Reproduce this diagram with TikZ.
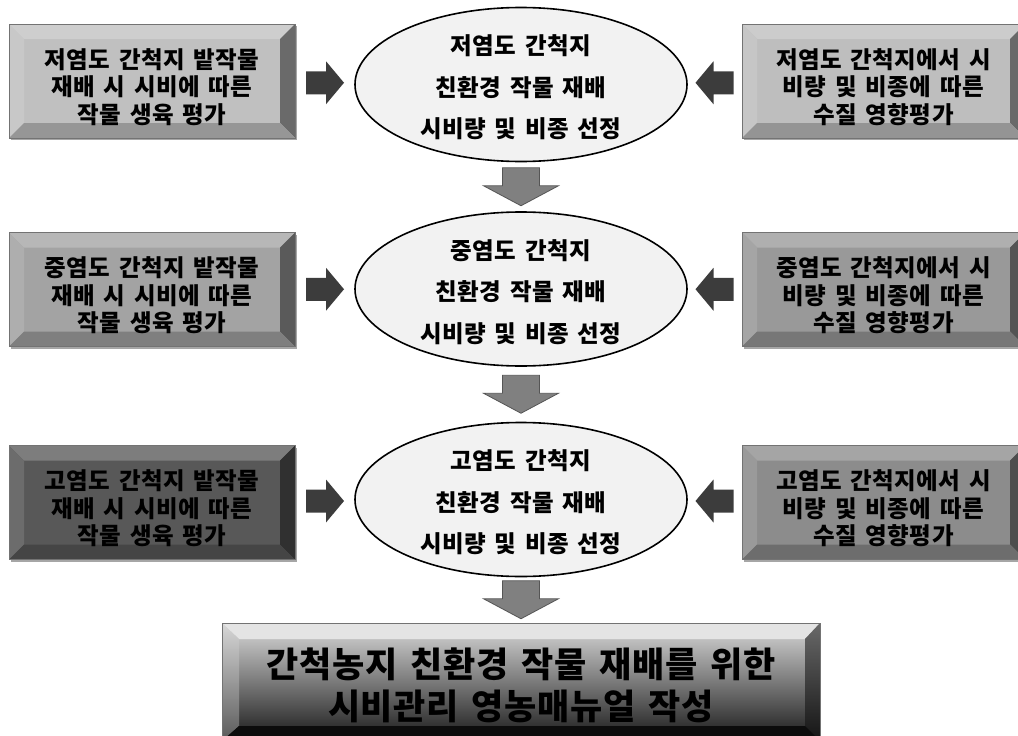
\documentclass[tikz,border=0pt]{standalone}
\usepackage{fontspec}
\newfontfamily\kr{Noto Sans CJK KR}[WordSpace=1.5, LetterSpace=2]
\usetikzlibrary{shapes.geometric,calc}
\definecolor{fa}{RGB}{192,192,192}
\definecolor{fb}{RGB}{163,163,163}
\definecolor{fc}{RGB}{88,88,88}
\definecolor{ga}{RGB}{190,190,190}
\definecolor{gb}{RGB}{153,153,153}
\definecolor{gc}{RGB}{140,140,140}
\definecolor{ellfill}{RGB}{242,242,242}
\definecolor{arrdark}{RGB}{60,60,60}
\definecolor{arrgray}{RGB}{128,128,128}
\definecolor{arrgrayd}{RGB}{85,85,85}
\definecolor{bface1}{RGB}{218,218,218}
\definecolor{bface2}{RGB}{25,25,25}
\definecolor{btop}{RGB}{228,228,228}
\definecolor{bleft1}{RGB}{215,215,215}
\definecolor{bleft2}{RGB}{90,90,90}
\definecolor{bright1}{RGB}{105,105,105}
\definecolor{bright2}{RGB}{20,20,20}
\definecolor{bbot}{RGB}{12,12,12}
\tikzset{
 bframe/.style={draw=black!55, line width=0.6pt, inner sep=0pt, outer sep=0pt, rectangle},
 boxpos/.style={minimum width=#1, minimum height=114pt, inner sep=0pt, outer sep=0pt},
 sidetext/.style={font=\kr\bfseries\fontsize{23.5}{27.5}\selectfont, align=center, text=black, inner sep=0pt},
 ell/.style={ellipse, draw=black, line width=1.6pt, fill=ellfill, minimum width=332pt, minimum height=154pt, inner sep=0pt, outer sep=0pt},
 elltext/.style={align=center, inner sep=0pt, font=\kr\bfseries\fontsize{23.5}{41.5}\selectfont},
 pics/rarrow/.style={code={
   \fill[arrdark] (-19pt,11.5pt) -- (1pt,11.5pt) -- (1pt,21.5pt) -- (19pt,0pt) -- (1pt,-21.5pt) -- (1pt,-11.5pt) -- (-19pt,-11.5pt) -- cycle;}},
 pics/darrow/.style={code={
   \filldraw[fill=arrgray, draw=arrgrayd, line width=0.8pt] (-18.5pt,19pt) -- (18.5pt,19pt) -- (18.5pt,1pt) -- (37.5pt,1pt) -- (0pt,-19pt) -- (-37.5pt,1pt) -- (-18.5pt,1pt) -- cycle;}},
}
\newcommand\bevbox[6]{%
 \fill[black!35] ([shift={(2pt,-2pt)}]#1.north west) rectangle ([shift={(2pt,-2pt)}]#1.south east);
 \node[bframe, minimum width=#3, minimum height=#4, fill=#5] (#1) at (#2) {};
 \fill[#5!78!white] (#1.north west) -- (#1.north east) -- ([shift={(-15pt,-15pt)}]#1.north east) -- ([shift={(15pt,-15pt)}]#1.north west) -- cycle;
 \fill[#5!88!white] (#1.north west) -- ([shift={(15pt,-15pt)}]#1.north west) -- ([shift={(15pt,15pt)}]#1.south west) -- (#1.south west) -- cycle;
 \fill[#5!55!black] (#1.north east) -- ([shift={(-15pt,-15pt)}]#1.north east) -- ([shift={(-15pt,15pt)}]#1.south east) -- (#1.south east) -- cycle;
 \fill[#5!78!black] (#1.south west) -- ([shift={(15pt,15pt)}]#1.south west) -- ([shift={(-15pt,15pt)}]#1.south east) -- (#1.south east) -- cycle;
 \draw[black!55, line width=0.6pt] (#1.north west) rectangle (#1.south east);
 \node[sidetext] (#1t) at ([yshift=-6pt]#1.center) {#6};
}
\begin{document}
\begin{tikzpicture}[x=1pt,y=-1pt]
\clip (0,0) rectangle (1018,736);
\fill[white] (0,0) rectangle (1018,736);
% ellipses
\node[ell] (E1) at (521,84.5) {};
\node[ell] (E2) at (521,289) {};
\node[ell] (E3) at (521,499.5) {};
\node[elltext] (E1t) at ([yshift=-3pt]E1.center) {저염도 간척지\\친환경 작물 재배\\시비량 및 비종 선정};
\node[elltext] (E2t) at ([yshift=-3pt]E2.center) {중염도 간척지\\친환경 작물 재배\\시비량 및 비종 선정};
\node[elltext] (E3t) at ([yshift=-3pt]E3.center) {고염도 간척지\\친환경 작물 재배\\시비량 및 비종 선정};
% side box positions (for shadows)
\node[boxpos=286pt] (L1) at (152,81) {};
\node[boxpos=286pt] (L2) at (152,289.5) {};
\node[boxpos=286pt] (L3) at (152,502.5) {};
\node[boxpos=283pt] (R1) at (883.5,81) {};
\node[boxpos=283pt] (R2) at (883.5,289.5) {};
\node[boxpos=283pt] (R3) at (883.5,502.5) {};
\bevbox{L1}{152,81}{286pt}{114pt}{fa}{저염도 간척지 밭작물\\재배 시 시비에 따른\\작물 생육 평가}
\bevbox{L2}{152,289.5}{286pt}{114pt}{fb}{중염도 간척지 밭작물\\재배 시 시비에 따른\\작물 생육 평가}
\bevbox{L3}{152,502.5}{286pt}{114pt}{fc}{고염도 간척지 밭작물\\재배 시 시비에 따른\\작물 생육 평가}
\bevbox{R1}{883.5,81}{283pt}{114pt}{ga}{저염도 간척지에서 시\\비량 및 비종에 따른\\수질 영향평가}
\bevbox{R2}{883.5,289.5}{283pt}{114pt}{gb}{중염도 간척지에서 시\\비량 및 비종에 따른\\수질 영향평가}
\bevbox{R3}{883.5,502.5}{283pt}{114pt}{gc}{고염도 간척지에서 시\\비량 및 비종에 따른\\수질 영향평가}
% bottom box
\node[bframe, minimum width=598pt, minimum height=118pt] (B) at (521,682) {};
\shade[top color=bface1, bottom color=bface2] (B.north west) rectangle (B.south east);
\fill[btop] (B.north west) -- (B.north east) -- ([shift={(-15pt,-16pt)}]B.north east) -- ([shift={(17pt,-16pt)}]B.north west) -- cycle;
\shade[top color=bleft1, bottom color=bleft2] (B.north west) -- ([shift={(17pt,-16pt)}]B.north west) -- ([shift={(17pt,15pt)}]B.south west) -- (B.south west) -- cycle;
\shade[top color=bright1, bottom color=bright2] (B.north east) -- ([shift={(-15pt,-16pt)}]B.north east) -- ([shift={(-15pt,15pt)}]B.south east) -- (B.south east) -- cycle;
\fill[bbot] (B.south west) -- ([shift={(17pt,15pt)}]B.south west) -- ([shift={(-15pt,15pt)}]B.south east) -- (B.south east) -- cycle;
\draw[black!55, line width=0.6pt] (B.north west) rectangle (B.south east);
\node[font=\kr\bfseries\fontsize{35}{42}\selectfont, align=center, inner sep=0pt] (BT) at (521,685) {간척농지 친환경 작물 재배를 위한\\시비관리 영농매뉴얼 작성};
% side arrows (between named nodes)
\coordinate (A1) at ($(L1.east)!0.5!(E1.west)$);
\coordinate (A2) at ($(L2.east)!0.5!(E2.west)$);
\coordinate (A3) at ($(L3.east)!0.5!(E3.west)$);
\coordinate (A4) at ($(R1.west)!0.5!(E1.east)$);
\coordinate (A5) at ($(R2.west)!0.5!(E2.east)$);
\coordinate (A6) at ($(R3.west)!0.5!(E3.east)$);
\pic at (A1) {rarrow};
\pic at (A2) {rarrow};
\pic at (A3) {rarrow};
\pic[rotate=180] at (A4) {rarrow};
\pic[rotate=180] at (A5) {rarrow};
\pic[rotate=180] at (A6) {rarrow};
% down arrows
\coordinate (D1) at ($(E1.south)!0.5!(E2.north)$);
\coordinate (D2) at ($(E2.south)!0.5!(E3.north)$);
\coordinate (D3) at ($(E3.south)!0.5!(B.north)$);
\pic at (D1) {darrow};
\pic at (D2) {darrow};
\pic at (D3) {darrow};
\end{tikzpicture}
\end{document}
